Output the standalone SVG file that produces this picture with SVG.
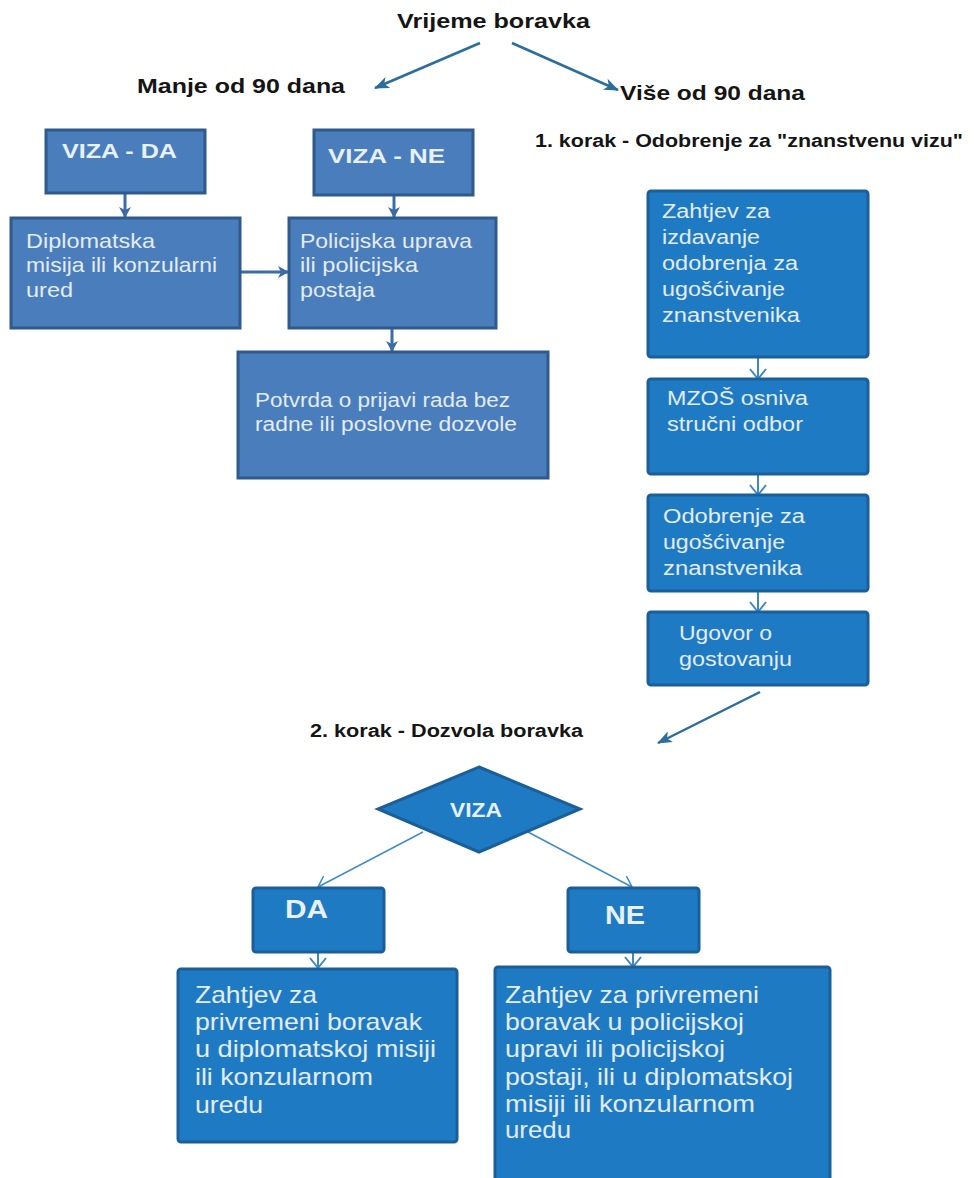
<svg xmlns="http://www.w3.org/2000/svg" width="975" height="1178" viewBox="0 0 975 1178">
<defs>
<style>
.h{font-family:"Liberation Sans",Arial,sans-serif;font-weight:bold;fill:#151515;}
.t{font-family:"Liberation Sans",Arial,sans-serif;fill:#e4ecf7;}
.tb{font-family:"Liberation Sans",Arial,sans-serif;font-weight:bold;fill:#e8f0fa;}
.bl{fill:#4a7dbb;stroke:#2f5a8c;stroke-width:3;}
.br{fill:#1e7bc3;stroke:#1a5f99;stroke-width:3;}
.ah{stroke:#2b6e9c;stroke-width:2.5;fill:none;}
.al{stroke:#3b6ca6;stroke-width:3;fill:none;}
.ar{stroke:#3c87c4;stroke-width:2;fill:none;}
.ad{stroke:#3f8cc8;stroke-width:1.5;fill:none;}
</style>
<marker id="mh" markerUnits="userSpaceOnUse" markerWidth="16" markerHeight="12" refX="14" refY="6" orient="auto">
<path d="M0,0 L15,6 L0,12 L4,6 z" fill="#2b6e9c"/>
</marker>
<marker id="ml" markerUnits="userSpaceOnUse" markerWidth="12" markerHeight="14" refX="11" refY="7" orient="auto">
<path d="M0,1 L11,7 L0,13 L3,7 z" fill="#3b6ca6"/>
</marker>
<marker id="mo" markerUnits="userSpaceOnUse" markerWidth="14" markerHeight="18" refX="11" refY="9" orient="auto">
<path d="M1,1 L11,9 L1,17" fill="none" stroke="#3c87c4" stroke-width="2"/>
</marker>
<marker id="md" markerUnits="userSpaceOnUse" markerWidth="14" markerHeight="18" refX="11" refY="9" orient="auto">
<path d="M1,2 L11,9 L1,16" fill="none" stroke="#3f8cc8" stroke-width="1.5"/>
</marker>
</defs>
<rect width="975" height="1178" fill="#ffffff"/>

<g id="labels">
<text class="h" x="397" y="28" font-size="21" textLength="193" lengthAdjust="spacingAndGlyphs">Vrijeme boravka</text>
<text class="h" x="137" y="93" font-size="21" textLength="208" lengthAdjust="spacingAndGlyphs">Manje od 90 dana</text>
<text class="h" x="620" y="100" font-size="21" textLength="185" lengthAdjust="spacingAndGlyphs">Više od 90 dana</text>
<text class="h" x="535" y="147" font-size="18" textLength="428" lengthAdjust="spacingAndGlyphs">1. korak - Odobrenje za "znanstvenu vizu"</text>
<text class="h" x="310" y="737" font-size="18" textLength="273" lengthAdjust="spacingAndGlyphs">2. korak - Dozvola boravka</text>
</g>

<g id="connectors">
<line class="ah" x1="480" y1="43" x2="375" y2="88" marker-end="url(#mh)"/>
<line class="ah" x1="512" y1="43" x2="618" y2="90" marker-end="url(#mh)"/>
<line class="al" x1="125" y1="193" x2="125" y2="218" marker-end="url(#ml)"/>
<line class="al" x1="394" y1="195" x2="394" y2="218" marker-end="url(#ml)"/>
<line class="al" x1="240" y1="272" x2="289" y2="272" marker-end="url(#ml)"/>
<line class="al" x1="392" y1="328" x2="392" y2="352" marker-end="url(#ml)"/>
<line class="ar" x1="758" y1="357" x2="758" y2="379" marker-end="url(#mo)"/>
<line class="ar" x1="758" y1="474" x2="758" y2="495" marker-end="url(#mo)"/>
<line class="ar" x1="758" y1="591" x2="758" y2="612" marker-end="url(#mo)"/>
<line class="ah" x1="760" y1="692" x2="658" y2="743" marker-end="url(#mh)"/>
<line class="ad" x1="423" y1="832" x2="318" y2="887" marker-end="url(#md)"/>
<line class="ad" x1="528" y1="832" x2="632" y2="887" marker-end="url(#md)"/>
<line class="ar" x1="318" y1="952" x2="318" y2="968" marker-end="url(#mo)"/>
<line class="ar" x1="633" y1="952" x2="633" y2="967" marker-end="url(#mo)"/>
</g>

<g id="viza-da">
<rect class="bl" x="46" y="130" width="159" height="63"/>
<text class="tb" x="62" y="158" font-size="21" textLength="115" lengthAdjust="spacingAndGlyphs">VIZA - DA</text>
</g>
<g id="viza-ne">
<rect class="bl" x="314" y="130" width="159" height="65"/>
<text class="tb" x="328" y="163" font-size="21" textLength="117" lengthAdjust="spacingAndGlyphs">VIZA - NE</text>
</g>
<g id="diplomatska">
<rect class="bl" x="11" y="218" width="229" height="110"/>
<text class="t" x="26" y="248" font-size="21" textLength="129" lengthAdjust="spacingAndGlyphs">Diplomatska</text>
<text class="t" x="26" y="272" font-size="21" textLength="191" lengthAdjust="spacingAndGlyphs">misija ili konzularni</text>
<text class="t" x="26" y="297" font-size="21" textLength="47" lengthAdjust="spacingAndGlyphs">ured</text>
</g>
<g id="policijska">
<rect class="bl" x="289" y="218" width="207" height="110"/>
<text class="t" x="300" y="248" font-size="21" textLength="172" lengthAdjust="spacingAndGlyphs">Policijska uprava</text>
<text class="t" x="300" y="272" font-size="21" textLength="118" lengthAdjust="spacingAndGlyphs">ili policijska</text>
<text class="t" x="300" y="297" font-size="21" textLength="75" lengthAdjust="spacingAndGlyphs">postaja</text>
</g>
<g id="potvrda">
<rect class="bl" x="238" y="352" width="310" height="126"/>
<text class="t" x="255" y="407" font-size="20" textLength="255" lengthAdjust="spacingAndGlyphs">Potvrda o prijavi rada bez</text>
<text class="t" x="255" y="431" font-size="20" textLength="262" lengthAdjust="spacingAndGlyphs">radne ili poslovne dozvole</text>
</g>

<g id="zahtjev-odobrenje">
<rect class="br" x="648" y="191" width="220" height="166" rx="3"/>
<text class="t" x="662" y="218" font-size="20" textLength="108" lengthAdjust="spacingAndGlyphs">Zahtjev za</text>
<text class="t" x="662" y="244" font-size="20" textLength="98" lengthAdjust="spacingAndGlyphs">izdavanje</text>
<text class="t" x="662" y="270" font-size="20" textLength="136" lengthAdjust="spacingAndGlyphs">odobrenja za</text>
<text class="t" x="662" y="296" font-size="20" textLength="123" lengthAdjust="spacingAndGlyphs">ugošćivanje</text>
<text class="t" x="662" y="322" font-size="20" textLength="138" lengthAdjust="spacingAndGlyphs">znanstvenika</text>
</g>
<g id="mzos">
<rect class="br" x="648" y="379" width="220" height="95" rx="3"/>
<text class="t" x="667" y="405" font-size="20" textLength="141" lengthAdjust="spacingAndGlyphs">MZOŠ osniva</text>
<text class="t" x="667" y="431" font-size="20" textLength="136" lengthAdjust="spacingAndGlyphs">stručni odbor</text>
</g>
<g id="odobrenje">
<rect class="br" x="648" y="495" width="220" height="96" rx="3"/>
<text class="t" x="663" y="523" font-size="20" textLength="142" lengthAdjust="spacingAndGlyphs">Odobrenje za</text>
<text class="t" x="663" y="549" font-size="20" textLength="122" lengthAdjust="spacingAndGlyphs">ugošćivanje</text>
<text class="t" x="663" y="575" font-size="20" textLength="139" lengthAdjust="spacingAndGlyphs">znanstvenika</text>
</g>
<g id="ugovor">
<rect class="br" x="648" y="612" width="220" height="73" rx="3"/>
<text class="t" x="679" y="640" font-size="20" textLength="93" lengthAdjust="spacingAndGlyphs">Ugovor o</text>
<text class="t" x="679" y="666" font-size="20" textLength="113" lengthAdjust="spacingAndGlyphs">gostovanju</text>
</g>

<g id="viza-diamond">
<path class="br" d="M479,767 L580,809 L479,852 L378,809 z"/>
<text class="tb" x="450" y="817" font-size="21" textLength="52" lengthAdjust="spacingAndGlyphs">VIZA</text>
</g>
<g id="da">
<rect class="br" x="253" y="888" width="131" height="64" rx="3"/>
<text class="tb" x="285" y="918" font-size="25" textLength="43" lengthAdjust="spacingAndGlyphs">DA</text>
</g>
<g id="ne">
<rect class="br" x="568" y="888" width="131" height="64" rx="3"/>
<text class="tb" x="605" y="924" font-size="25" textLength="40" lengthAdjust="spacingAndGlyphs">NE</text>
</g>
<g id="zahtjev-da">
<rect class="br" x="178" y="969" width="279" height="173" rx="3"/>
<text class="t" x="195" y="1003" font-size="24" textLength="122" lengthAdjust="spacingAndGlyphs">Zahtjev za</text>
<text class="t" x="195" y="1030" font-size="24" textLength="227" lengthAdjust="spacingAndGlyphs">privremeni boravak</text>
<text class="t" x="195" y="1057" font-size="24" textLength="241" lengthAdjust="spacingAndGlyphs">u diplomatskoj misiji</text>
<text class="t" x="195" y="1085" font-size="24" textLength="178" lengthAdjust="spacingAndGlyphs">ili konzularnom</text>
<text class="t" x="195" y="1113" font-size="24" textLength="68" lengthAdjust="spacingAndGlyphs">uredu</text>
</g>
<g id="zahtjev-ne">
<rect class="br" x="495" y="967" width="335" height="220" rx="3"/>
<text class="t" x="505" y="1003" font-size="24" textLength="254" lengthAdjust="spacingAndGlyphs">Zahtjev za privremeni</text>
<text class="t" x="505" y="1030" font-size="24" textLength="239" lengthAdjust="spacingAndGlyphs">boravak u policijskoj</text>
<text class="t" x="505" y="1057" font-size="24" textLength="220" lengthAdjust="spacingAndGlyphs">upravi ili policijskoj</text>
<text class="t" x="505" y="1085" font-size="24" textLength="288" lengthAdjust="spacingAndGlyphs">postaji, ili u diplomatskoj</text>
<text class="t" x="505" y="1112" font-size="24" textLength="250" lengthAdjust="spacingAndGlyphs">misiji ili konzularnom</text>
<text class="t" x="505" y="1138" font-size="24" textLength="66" lengthAdjust="spacingAndGlyphs">uredu</text>
</g>
</svg>
